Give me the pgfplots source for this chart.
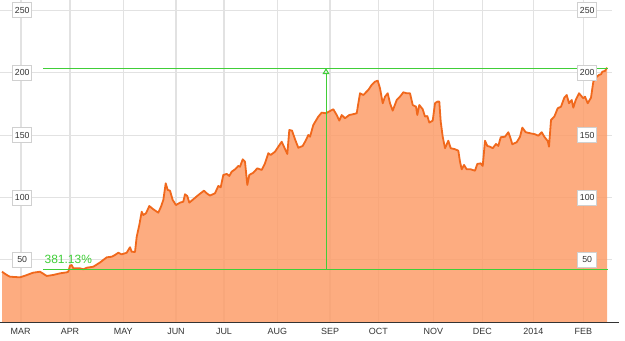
\documentclass[border=0pt]{standalone}
\usepackage{pgfplots}
\pgfplotsset{compat=1.18}
\usepackage{pgfplotstable}
\usepackage{fontspec}
\setmainfont{Liberation Sans}
\usetikzlibrary{arrows.meta}
\definecolor{fillc}{RGB}{253,157,106}
\definecolor{linec}{RGB}{240,104,28}
\definecolor{gridc}{RGB}{226,226,226}
\definecolor{grn}{RGB}{64,206,56}
\definecolor{boxc}{RGB}{208,208,208}
\definecolor{txtc}{RGB}{51,51,51}

\pgfplotstableread{
x y
2 40.6
6.7 38.0
10 36.6
20 36.1
25 37.4
33 39.8
40 40.6
42.7 39.3
46.7 37.2
53.3 38.0
60 39.3
66.7 40.1
68.3 40.6
70 45.4
71.7 46.0
73.3 43.3
80 43.3
83.3 42.5
86.7 43.8
93.3 44.6
100 48.0
106.7 52.1
111.7 52.6
115 54.0
118.3 55.8
121.7 54.5
126.7 55.8
130 60.2
131.7 56.6
135 56.4
136.7 68.6
139.3 78.0
141.7 88.7
143.3 86.0
146 87.4
149.3 93.2
153.3 90.6
158.3 87.9
161 92.7
163.3 98.0
165.7 111.4
167.7 106.1
170 105.5
172.7 98.0
176 94.0
180 95.9
183.3 96.7
185 102.6
187.3 101.2
189.3 95.9
193.3 98.6
198.3 102.0
204 105.5
206.7 103.4
210 101.6
215 103.4
218.3 109.3
220.7 108.2
223.3 118.1
226.7 118.9
229.3 117.3
231.7 120.7
235 122.6
238.3 125.3
240 124.7
242.7 130.6
245 128.7
247.3 110.1
249.3 118.1
253.3 119.9
257.3 123.4
261.7 122.1
265 127.4
268.3 135.5
270.7 134.1
275 136.7
278.3 140.7
281.7 144.7
284 140.7
287.3 134.9
289.3 154.1
292 153.6
295 146.7
298.3 139.9
302.7 141.3
306 146.1
308.3 150.1
310 148.7
313.3 158.1
318.3 164.8
321.7 168.0
326 167.5
330 169.3
333.3 170.7
336.7 166.1
339.3 161.6
341.7 166.1
345 163.5
349.3 166.1
354 166.9
356.7 167.5
360 183.5
363.3 182.1
368.3 186.2
371.7 190.2
375 192.8
377.7 193.6
380 187.5
382.7 175.5
385 180.8
387.7 183.5
390 175.5
392.7 169.6
396.7 178.1
400 180.8
403.3 184.3
406.7 183.5
410 183.5
412.7 174.1
416 172.8
417.3 166.1
419.3 174.1
422.7 170.7
425 164.8
427.3 165.3
429.3 160.0
432.7 161.6
435 175.5
437.3 176.8
439.3 176.8
440.7 160.8
442.7 148.7
445 139.5
448.3 145.5
450.7 139.5
455 138.7
458.3 137.5
460 128.7
461.7 122.6
464 126.1
466.7 122.6
470.7 122.6
475 121.5
477.3 126.9
480.7 127.4
482.7 125.3
485 145.5
487.3 141.3
490 140.7
492.7 139.5
496 142.9
498.3 141.3
500.7 148.3
505 148.7
508.3 152.3
510 148.7
512.3 142.7
516.7 144.3
520 148.7
522.3 156.0
525.7 152.3
530 151.5
535 150.7
538.3 149.5
541.7 152.3
544.3 148.7
547.7 145.3
549 140.7
551 162.1
554.3 164.8
557.7 171.5
561 172.8
564.3 180.0
566.7 182.1
569 175.5
571.7 178.1
573.3 172.0
575.7 178.1
579 183.5
581 181.6
583.3 179.5
585 180.8
587.7 175.5
591 180.0
593.3 192.8
595.7 196.0
599 198.2
601 198.7
602.3 200.8
605 201.4
607 204.0
}\pricedata

\begin{document}
\begin{tikzpicture}[x=1bp,y=1bp]
\useasboundingbox (0,-17.6) rectangle (625,322.4);
\begin{axis}[
  at={(0,0)}, anchor=south west,
  scale only axis, width=612bp, height=322.4bp,
  xmin=0, xmax=612, ymin=0, ymax=258.2,
  clip=false,
  axis line style={draw=none},
  major tick length=0pt,
  xtick={20.7,70,123.3,176,224,277.3,330,378.3,433.3,482.3,533.3,583.3},
  xticklabels={MAR,APR,MAY,JUN,JUL,AUG,SEP,OCT,NOV,DEC,2014,FEB},
  xticklabel style={anchor=base, yshift=-11.6bp, font=\fontsize{9}{9}\selectfont, text=txtc},
  ytick={50,100,150,200,250},
  yticklabels={},
  xmajorgrids, ymajorgrids,
  x grid style={gridc, line width=1.6bp},
  y grid style={gridc, line width=1bp},
]
\addplot[draw=none, fill=fillc, fill opacity=0.85] table[x=x,y=y] {\pricedata} \closedcycle;
\addplot[linec, line width=1.8bp, line join=round] table[x=x,y=y] {\pricedata};
\addplot[grn, line width=1bp] coordinates {(43,42.3) (608,42.3)};
\addplot[grn, line width=1bp] coordinates {(43,203.6) (608,203.6)};
\addplot[grn, line width=1bp, -{Triangle[open, width=7bp, length=6bp]}] coordinates {(326,42.3) (326,203.6)};
\node[grn, anchor=base west, inner sep=0pt, font=\fontsize{12}{12}\selectfont] at (axis cs:44.5,47.3) {381.13\%};
\draw[txtc, line width=1bp] (axis cs:0,0) -- (axis cs:619,0);
\pgfplotsinvokeforeach{50,100,150,200,250}{
  \node[draw=boxc, fill=white, line width=0.8bp, minimum width=19bp, minimum height=15bp, inner sep=0pt, text=txtc, font=\fontsize{8.8}{9}\selectfont] at (axis cs:22.2,#1) {#1};
  \node[draw=boxc, fill=white, line width=0.8bp, minimum width=19bp, minimum height=15bp, inner sep=0pt, text=txtc, font=\fontsize{8.8}{9}\selectfont] at (axis cs:587.2,#1) {#1};
}
\end{axis}
\end{tikzpicture}
\end{document}
